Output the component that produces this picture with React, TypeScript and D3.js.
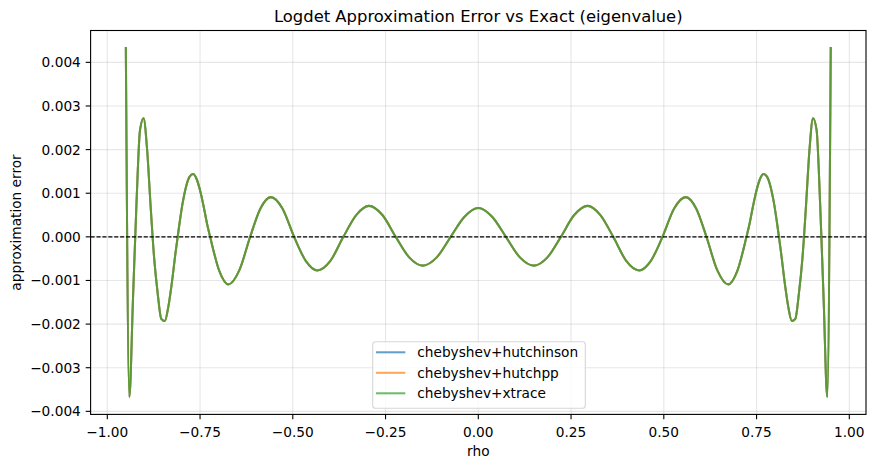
import React from "react";
import * as d3 from "d3";

// ---------- data ----------
const rho = [
  -0.95, -0.9405, -0.9309, -0.9214, -0.9118, -0.9023, -0.8927, -0.8832, -0.8736, -0.8641,
  -0.8545, -0.845, -0.8354, -0.8259, -0.8163, -0.8068, -0.7972, -0.7877, -0.7781, -0.7686,
  -0.759, -0.7495, -0.7399, -0.7304, -0.7228, -0.6982, -0.6735, -0.6443, -0.615, -0.5872,
  -0.5593, -0.5279, -0.4965, -0.4651, -0.4337, -0.3987, -0.3637, -0.3291, -0.2945, -0.2585,
  -0.2225, -0.1862, -0.1498, -0.1121, -0.0744, -0.0372, 0.0,
  0.0372, 0.0744, 0.1121, 0.1498, 0.1862, 0.2225, 0.2585, 0.2945, 0.3291, 0.3637,
  0.3987, 0.4337, 0.4651, 0.4965, 0.5279, 0.5593, 0.5872, 0.615, 0.6443, 0.6735,
  0.6982, 0.7228, 0.7304, 0.7399, 0.7495, 0.759, 0.7686, 0.7781, 0.7877, 0.7972,
  0.8068, 0.8163, 0.8259, 0.8354, 0.845, 0.8545, 0.8641, 0.8736, 0.8832, 0.8927,
  0.9023, 0.9118, 0.9214, 0.9309, 0.9405, 0.95,
];

// approximation error (×1e-3)
const approxErrorMilli = [
  4.33, -3.67, -1.46, 0.75, 2.45, 2.72, 2.0, 0.7, -0.5, -1.3,
  -1.88, -1.93, -1.6, -1.05, -0.38, 0.22, 0.76, 1.15, 1.38, 1.44,
  1.32, 1.05, 0.68, 0.27, 0.0, -0.78, -1.09, -0.77, 0.0, 0.65,
  0.91, 0.65, 0.0, -0.55, -0.77, -0.55, 0.0, 0.5, 0.71, 0.5,
  0.0, -0.47, -0.66, -0.47, 0.0, 0.46, 0.66,
  0.46, 0.0, -0.47, -0.66, -0.47, 0.0, 0.5, 0.71, 0.5, 0.0,
  -0.55, -0.77, -0.55, 0.0, 0.65, 0.91, 0.65, 0.0, -0.77, -1.09,
  -0.78, 0.0, 0.27, 0.68, 1.05, 1.32, 1.44, 1.38, 1.15, 0.76,
  0.22, -0.38, -1.05, -1.6, -1.93, -1.88, -1.3, -0.5, 0.7, 2.0,
  2.72, 2.45, 0.75, -1.46, -3.67, 4.33,
];

// the three methods give visually identical curves
const errHutchinson = approxErrorMilli.map((v) => v / 1000);
const errHutchpp = approxErrorMilli.map((v) => v / 1000);
const errXtrace = approxErrorMilli.map((v) => v / 1000);

const seriesNames = ["chebyshev+hutchinson", "chebyshev+hutchpp", "chebyshev+xtrace"];
const seriesValues = [errHutchinson, errHutchpp, errXtrace];
const seriesColors = ["#1f77b4", "#ff7f0e", "#2ca02c"];

const xTicks = [-1.0, -0.75, -0.5, -0.25, 0.0, 0.25, 0.5, 0.75, 1.0];
const yTicks = [-0.004, -0.003, -0.002, -0.001, 0.0, 0.001, 0.002, 0.003, 0.004];
const xDomain = [-1.045, 1.045];
const yDomain = [-0.00407, 0.00473];

// ---------- layout ----------
const W = 875;
const H = 468;
const M = { left: 90.6, right: 866, top: 30.5, bottom: 414.4 };
const FONT = "'DejaVu Sans', sans-serif";
const FS = 13.7;

const fmt = (v: number, d: number) => {
  const s = Math.abs(v).toFixed(d);
  return (v < -1e-12 ? "\u2212" : "") + s;
};

export default function App() {
  const x = d3.scaleLinear().domain(xDomain).range([M.left, M.right]);
  const y = d3.scaleLinear().domain(yDomain).range([M.bottom, M.top]);

  const line = d3
    .line<number>()
    .x((_, i) => x(rho[i]))
    .y((d) => y(d))
    .curve(d3.curveMonotoneX);

  const legX = 372.7;
  const legY = 341.7;
  const legW = 212.6;
  const legH = 66.6;
  const rowY = [352.3, 372.8, 393.3];

  return (
    <svg
      width={W}
      height={H}
      style={{ position: "absolute", left: 0, top: 0, background: "#fff" }}
      fontFamily={FONT}
    >
      <rect x={0} y={0} width={W} height={H} fill="#fff" />
      <defs>
        <clipPath id="plotclip">
          <rect x={M.left} y={M.top} width={M.right - M.left} height={M.bottom - M.top} />
        </clipPath>
      </defs>

      {/* grid */}
      <g stroke="#b0b0b0" strokeOpacity={0.3} strokeWidth={1.1}>
        {xTicks.map((t) => (
          <line key={"gx" + t} x1={x(t)} x2={x(t)} y1={M.top} y2={M.bottom} />
        ))}
        {yTicks.map((t) => (
          <line key={"gy" + t} x1={M.left} x2={M.right} y1={y(t)} y2={y(t)} />
        ))}
      </g>

      {/* data */}
      <g clipPath="url(#plotclip)" fill="none">
        {seriesValues.map((vals, k) => (
          <path
            key={seriesNames[k]}
            d={line(vals) || ""}
            stroke={seriesColors[k]}
            strokeOpacity={0.7}
            strokeWidth={2.05}
            strokeLinejoin="round"
            strokeLinecap="square"
          />
        ))}
        <line
          x1={M.left}
          x2={M.right}
          y1={y(0)}
          y2={y(0)}
          stroke="#000"
          strokeWidth={1.1}
          strokeDasharray="4.1 1.8"
        />
      </g>

      {/* spines */}
      <rect
        x={M.left}
        y={M.top}
        width={M.right - M.left}
        height={M.bottom - M.top}
        fill="none"
        stroke="#000"
        strokeWidth={1.1}
      />

      {/* x ticks */}
      <g fontSize={FS} fill="#000" textAnchor="middle">
        {xTicks.map((t) => (
          <g key={"xt" + t}>
            <line x1={x(t)} x2={x(t)} y1={M.bottom} y2={M.bottom + 4.9} stroke="#000" strokeWidth={1.1} />
            <text x={x(t)} y={436.5}>
              {fmt(t, 2)}
            </text>
          </g>
        ))}
      </g>

      {/* y ticks */}
      <g fontSize={FS} fill="#000" textAnchor="end">
        {yTicks.map((t) => (
          <g key={"yt" + t}>
            <line x1={M.left - 4.9} x2={M.left} y1={y(t)} y2={y(t)} stroke="#000" strokeWidth={1.1} />
            <text x={M.left - 9.8} y={y(t)} dy="0.36em">
              {fmt(t, 3)}
            </text>
          </g>
        ))}
      </g>

      {/* labels */}
      <text x={(M.left + M.right) / 2} y={456} fontSize={FS} textAnchor="middle" fill="#000">
        rho
      </text>
      <text
        transform={`translate(20.5, ${(M.top + M.bottom) / 2}) rotate(-90)`}
        fontSize={FS}
        textAnchor="middle"
        fill="#000"
      >
        approximation error
      </text>
      <text x={(M.left + M.right) / 2} y={22} fontSize={16.4} textAnchor="middle" fill="#000">
        Logdet Approximation Error vs Exact (eigenvalue)
      </text>

      {/* legend */}
      <g>
        <rect
          x={legX}
          y={legY}
          width={legW}
          height={legH}
          rx={2.8}
          fill="#fff"
          fillOpacity={0.8}
          stroke="#cccccc"
          strokeOpacity={0.8}
          strokeWidth={1.1}
        />
        {seriesNames.map((name, k) => (
          <g key={"lg" + name}>
            <line
              x1={376}
              x2={405.3}
              y1={rowY[k]}
              y2={rowY[k]}
              stroke={seriesColors[k]}
              strokeOpacity={0.7}
              strokeWidth={2.05}
            />
            <text x={417.3} y={rowY[k]} dy="0.36em" fontSize={FS} fill="#000">
              {name}
            </text>
          </g>
        ))}
      </g>
    </svg>
  );
}
